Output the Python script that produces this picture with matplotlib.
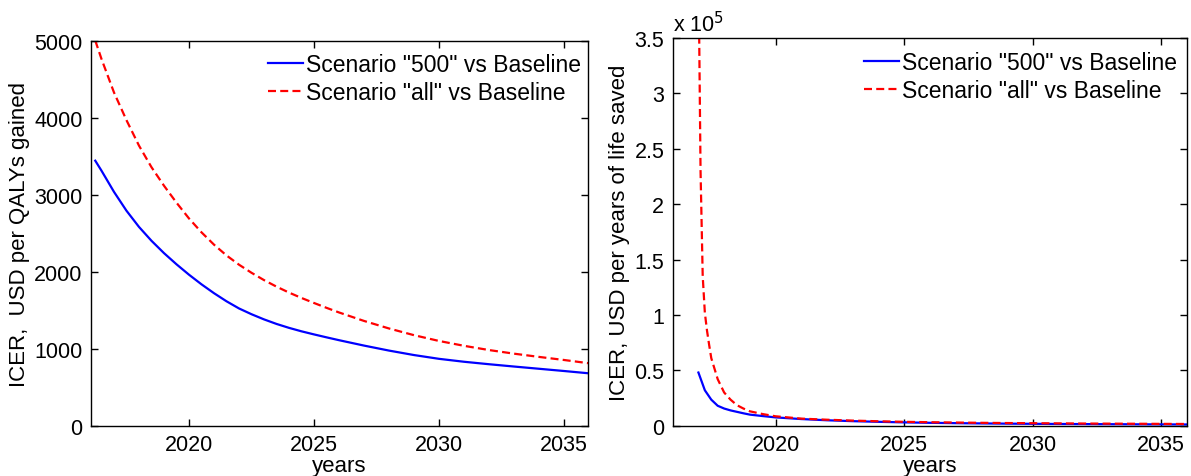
import matplotlib
matplotlib.use("Agg")
import matplotlib.pyplot as plt
from matplotlib.ticker import FuncFormatter

plt.rcParams['font.family'] = ['Liberation Sans', 'DejaVu Sans']

# ---- Left panel data (ICER, USD per QALYs gained) ----
years_left = [2016.25, 2016.5, 2017.0, 2017.5, 2018.0, 2018.5, 2019.0, 2019.5,
              2020.0, 2020.5, 2021.0, 2021.5, 2022.0, 2022.5, 2023.0, 2023.5, 2024.0,
              2024.5, 2025.0, 2025.5, 2026.0, 2027.0, 2028.0, 2029.0, 2030.0, 2031.0,
              2032.0, 2033.0, 2034.0, 2035.0, 2035.96]
qaly_500 = [3440, 3310, 3035, 2790, 2580, 2400, 2240, 2095,
            1960, 1835, 1720, 1615, 1522, 1447, 1380, 1321, 1270,
            1225, 1185, 1147, 1110, 1040, 975, 917, 868, 830,
            798, 768, 739, 710, 681]
qaly_all = [5000, 4760, 4325, 3965, 3635, 3355, 3115, 2895,
            2690, 2510, 2350, 2210, 2090, 1985, 1890, 1805, 1728,
            1658, 1593, 1530, 1470, 1360, 1262, 1175, 1100, 1037,
            982, 935, 893, 853, 812]

# ---- Right panel data (ICER, USD per years of life saved) ----
years_right_500 = [2017.0, 2017.25, 2017.5, 2017.75, 2018.0, 2018.25, 2018.5, 2018.75,
                   2019.0, 2019.5, 2020, 2021, 2022, 2023, 2024, 2025, 2026, 2027,
                   2028, 2029, 2030, 2031, 2032, 2033, 2034, 2035, 2036]
yls_500 = [48000, 32000, 23500, 18000, 15500, 13800, 12500, 11200,
           10000, 8700, 7500, 6000, 4900, 4100, 3500, 3000, 2600, 2300,
           2050, 1850, 1700, 1550, 1450, 1350, 1250, 1180, 1100]
years_right_all = [2017.0, 2017.083, 2017.167, 2017.25, 2017.333, 2017.417, 2017.5,
                   2017.75, 2018.0, 2018.25, 2018.5, 2018.75, 2019.0, 2019.5, 2020,
                   2021, 2022, 2023, 2024, 2025, 2026, 2027, 2028, 2029, 2030,
                   2031, 2032, 2033, 2034, 2035, 2036]
yls_all = [420000, 230000, 135000, 102000, 86000, 73000, 61000,
           42000, 30000, 23500, 18500, 15500, 13000, 10500, 8500,
           6400, 5400, 4600, 4000, 3500, 3150, 2850, 2600, 2400, 2250,
           2100, 1950, 1850, 1750, 1650, 1550]

label_500 = 'Scenario "500" vs Baseline'
label_all = 'Scenario "all" vs Baseline'

FS_TICK = 15.5
FS_LAB = 16
FS_LEG = 16.5
DASH = (0, (3.6, 1.9))

fig = plt.figure(figsize=(11.91, 4.77), dpi=100)
ax1 = fig.add_axes([91/1191, 1-426.7/477, (588-91)/1191, (426.7-41.5)/477])
ax2 = fig.add_axes([672.7/1191, 1-426.7/477, (1187-672.7)/1191, (426.7-39)/477])

for ax in (ax1, ax2):
    ax.tick_params(direction='in', top=True, right=True, labelsize=FS_TICK,
                   length=5, width=1, pad=6)
    for s in ax.spines.values():
        s.set_linewidth(1.0)
    ax.set_xticks([2020, 2025, 2030, 2035])
    ax.set_xlabel('years', fontsize=FS_LAB, labelpad=0)

ax1.set_xlim(2016.08, 2035.96)
ax2.set_xlim(2016, 2036)

ax1.plot(years_left, qaly_500, color='#0000ff', lw=1.6, label=label_500)
ax1.plot(years_left, qaly_all, color='#ff0000', lw=1.6, linestyle=DASH, label=label_all)
ax1.set_ylim(0, 5000)
ax1.set_yticks([0, 1000, 2000, 3000, 4000, 5000])
ax1.set_ylabel('ICER,  USD per QALYs gained', fontsize=FS_LAB, labelpad=3)
ax1.legend(loc='upper right', bbox_to_anchor=(0.986, 0.967), frameon=False,
           fontsize=FS_LEG, handlelength=1.5, handletextpad=0.15,
           labelspacing=0.22, borderpad=0.0, borderaxespad=0.0)

ax2.plot(years_right_500, yls_500, color='#0000ff', lw=1.6, label=label_500)
ax2.plot(years_right_all, yls_all, color='#ff0000', lw=1.6, linestyle=DASH, label=label_all)
ax2.set_ylim(0, 350000)
ax2.set_yticks([0, 50000, 100000, 150000, 200000, 250000, 300000, 350000])
ax2.yaxis.set_major_formatter(FuncFormatter(lambda v, p: ('%g' % (v / 1e5))))
ax2.set_ylabel('ICER, USD per years of life saved', fontsize=FS_LAB, labelpad=3)
ax2.text(0.0, 1.005, r'x 10$^5$', transform=ax2.transAxes, fontsize=FS_TICK,
         ha='left', va='bottom')
ax2.legend(loc='upper right', bbox_to_anchor=(0.9806, 0.966), frameon=False,
           fontsize=FS_LEG, handlelength=1.5, handletextpad=0.15,
           labelspacing=0.22, borderpad=0.0, borderaxespad=0.0)

fig.savefig('out.png', dpi=100)
